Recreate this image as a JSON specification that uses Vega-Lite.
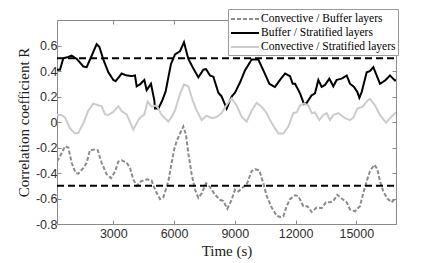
{
  "$schema": "https://vega.github.io/schema/vega-lite/v6.json",
  "width": 339,
  "height": 204,
  "autosize": {"type": "none"},
  "padding": {"left": 57, "top": 20, "right": 42, "bottom": 39},
  "background": "white",
  "config": {
    "view": {"stroke": null},
    "axis": {
      "grid": false,
      "domainColor": "#8a8a8a",
      "tickColor": "#8a8a8a",
      "tickSize": -4,
      "labelFont": "Liberation Sans",
      "labelFontSize": 12.5,
      "labelColor": "#303030",
      "titleFont": "Liberation Serif",
      "titleFontSize": 15,
      "titleFontWeight": "normal",
      "titleColor": "#202020"
    }
  },
  "datasets": {
    "series": [
      {"t": 220, "r": 0.41, "s": "Buffer / Stratified layers"},
      {"t": 368, "r": 0.41, "s": "Buffer / Stratified layers"},
      {"t": 532, "r": 0.50, "s": "Buffer / Stratified layers"},
      {"t": 779, "r": 0.51, "s": "Buffer / Stratified layers"},
      {"t": 944, "r": 0.52, "s": "Buffer / Stratified layers"},
      {"t": 1191, "r": 0.495, "s": "Buffer / Stratified layers"},
      {"t": 1520, "r": 0.435, "s": "Buffer / Stratified layers"},
      {"t": 1685, "r": 0.43, "s": "Buffer / Stratified layers"},
      {"t": 1849, "r": 0.49, "s": "Buffer / Stratified layers"},
      {"t": 2178, "r": 0.61, "s": "Buffer / Stratified layers"},
      {"t": 2310, "r": 0.59, "s": "Buffer / Stratified layers"},
      {"t": 2508, "r": 0.49, "s": "Buffer / Stratified layers"},
      {"t": 2754, "r": 0.39, "s": "Buffer / Stratified layers"},
      {"t": 3002, "r": 0.33, "s": "Buffer / Stratified layers"},
      {"t": 3117, "r": 0.32, "s": "Buffer / Stratified layers"},
      {"t": 3413, "r": 0.38, "s": "Buffer / Stratified layers"},
      {"t": 3660, "r": 0.365, "s": "Buffer / Stratified layers"},
      {"t": 3907, "r": 0.36, "s": "Buffer / Stratified layers"},
      {"t": 4071, "r": 0.365, "s": "Buffer / Stratified layers"},
      {"t": 4154, "r": 0.28, "s": "Buffer / Stratified layers"},
      {"t": 4318, "r": 0.295, "s": "Buffer / Stratified layers"},
      {"t": 4532, "r": 0.33, "s": "Buffer / Stratified layers"},
      {"t": 4648, "r": 0.25, "s": "Buffer / Stratified layers"},
      {"t": 4861, "r": 0.30, "s": "Buffer / Stratified layers"},
      {"t": 5026, "r": 0.17, "s": "Buffer / Stratified layers"},
      {"t": 5059, "r": 0.105, "s": "Buffer / Stratified layers"},
      {"t": 5224, "r": 0.105, "s": "Buffer / Stratified layers"},
      {"t": 5421, "r": 0.17, "s": "Buffer / Stratified layers"},
      {"t": 5586, "r": 0.24, "s": "Buffer / Stratified layers"},
      {"t": 5718, "r": 0.35, "s": "Buffer / Stratified layers"},
      {"t": 5849, "r": 0.455, "s": "Buffer / Stratified layers"},
      {"t": 6047, "r": 0.53, "s": "Buffer / Stratified layers"},
      {"t": 6294, "r": 0.555, "s": "Buffer / Stratified layers"},
      {"t": 6491, "r": 0.625, "s": "Buffer / Stratified layers"},
      {"t": 6705, "r": 0.495, "s": "Buffer / Stratified layers"},
      {"t": 6919, "r": 0.43, "s": "Buffer / Stratified layers"},
      {"t": 7199, "r": 0.35, "s": "Buffer / Stratified layers"},
      {"t": 7446, "r": 0.41, "s": "Buffer / Stratified layers"},
      {"t": 7578, "r": 0.415, "s": "Buffer / Stratified layers"},
      {"t": 7775, "r": 0.365, "s": "Buffer / Stratified layers"},
      {"t": 7940, "r": 0.355, "s": "Buffer / Stratified layers"},
      {"t": 8187, "r": 0.23, "s": "Buffer / Stratified layers"},
      {"t": 8351, "r": 0.20, "s": "Buffer / Stratified layers"},
      {"t": 8598, "r": 0.105, "s": "Buffer / Stratified layers"},
      {"t": 8845, "r": 0.20, "s": "Buffer / Stratified layers"},
      {"t": 9010, "r": 0.23, "s": "Buffer / Stratified layers"},
      {"t": 9257, "r": 0.31, "s": "Buffer / Stratified layers"},
      {"t": 9504, "r": 0.405, "s": "Buffer / Stratified layers"},
      {"t": 9833, "r": 0.49, "s": "Buffer / Stratified layers"},
      {"t": 10162, "r": 0.49, "s": "Buffer / Stratified layers"},
      {"t": 10409, "r": 0.405, "s": "Buffer / Stratified layers"},
      {"t": 10705, "r": 0.30, "s": "Buffer / Stratified layers"},
      {"t": 10985, "r": 0.275, "s": "Buffer / Stratified layers"},
      {"t": 11232, "r": 0.33, "s": "Buffer / Stratified layers"},
      {"t": 11479, "r": 0.38, "s": "Buffer / Stratified layers"},
      {"t": 11726, "r": 0.36, "s": "Buffer / Stratified layers"},
      {"t": 11857, "r": 0.30, "s": "Buffer / Stratified layers"},
      {"t": 11973, "r": 0.30, "s": "Buffer / Stratified layers"},
      {"t": 12220, "r": 0.225, "s": "Buffer / Stratified layers"},
      {"t": 12417, "r": 0.14, "s": "Buffer / Stratified layers"},
      {"t": 12549, "r": 0.15, "s": "Buffer / Stratified layers"},
      {"t": 12796, "r": 0.21, "s": "Buffer / Stratified layers"},
      {"t": 12960, "r": 0.225, "s": "Buffer / Stratified layers"},
      {"t": 13125, "r": 0.33, "s": "Buffer / Stratified layers"},
      {"t": 13290, "r": 0.275, "s": "Buffer / Stratified layers"},
      {"t": 13454, "r": 0.29, "s": "Buffer / Stratified layers"},
      {"t": 13668, "r": 0.34, "s": "Buffer / Stratified layers"},
      {"t": 13866, "r": 0.28, "s": "Buffer / Stratified layers"},
      {"t": 14030, "r": 0.33, "s": "Buffer / Stratified layers"},
      {"t": 14277, "r": 0.34, "s": "Buffer / Stratified layers"},
      {"t": 14524, "r": 0.365, "s": "Buffer / Stratified layers"},
      {"t": 14689, "r": 0.30, "s": "Buffer / Stratified layers"},
      {"t": 14886, "r": 0.275, "s": "Buffer / Stratified layers"},
      {"t": 15051, "r": 0.235, "s": "Buffer / Stratified layers"},
      {"t": 15150, "r": 0.19, "s": "Buffer / Stratified layers"},
      {"t": 15265, "r": 0.235, "s": "Buffer / Stratified layers"},
      {"t": 15512, "r": 0.39, "s": "Buffer / Stratified layers"},
      {"t": 15676, "r": 0.40, "s": "Buffer / Stratified layers"},
      {"t": 15841, "r": 0.43, "s": "Buffer / Stratified layers"},
      {"t": 16005, "r": 0.365, "s": "Buffer / Stratified layers"},
      {"t": 16170, "r": 0.30, "s": "Buffer / Stratified layers"},
      {"t": 16417, "r": 0.325, "s": "Buffer / Stratified layers"},
      {"t": 16664, "r": 0.365, "s": "Buffer / Stratified layers"},
      {"t": 16911, "r": 0.325, "s": "Buffer / Stratified layers"},
      {"t": 16960, "r": 0.33, "s": "Buffer / Stratified layers"},

      {"t": 220, "r": 0.055, "s": "Convective / Stratified layers"},
      {"t": 450, "r": 0.055, "s": "Convective / Stratified layers"},
      {"t": 615, "r": 0.035, "s": "Convective / Stratified layers"},
      {"t": 862, "r": -0.05, "s": "Convective / Stratified layers"},
      {"t": 1109, "r": -0.09, "s": "Convective / Stratified layers"},
      {"t": 1273, "r": -0.085, "s": "Convective / Stratified layers"},
      {"t": 1520, "r": -0.01, "s": "Convective / Stratified layers"},
      {"t": 1767, "r": 0.09, "s": "Convective / Stratified layers"},
      {"t": 2014, "r": 0.145, "s": "Convective / Stratified layers"},
      {"t": 2261, "r": 0.13, "s": "Convective / Stratified layers"},
      {"t": 2425, "r": 0.125, "s": "Convective / Stratified layers"},
      {"t": 2590, "r": 0.06, "s": "Convective / Stratified layers"},
      {"t": 2754, "r": 0.055, "s": "Convective / Stratified layers"},
      {"t": 3002, "r": 0.08, "s": "Convective / Stratified layers"},
      {"t": 3248, "r": 0.125, "s": "Convective / Stratified layers"},
      {"t": 3413, "r": 0.085, "s": "Convective / Stratified layers"},
      {"t": 3660, "r": 0.06, "s": "Convective / Stratified layers"},
      {"t": 3825, "r": 0.0, "s": "Convective / Stratified layers"},
      {"t": 3989, "r": -0.06, "s": "Convective / Stratified layers"},
      {"t": 4236, "r": 0.015, "s": "Convective / Stratified layers"},
      {"t": 4368, "r": 0.04, "s": "Convective / Stratified layers"},
      {"t": 4532, "r": 0.06, "s": "Convective / Stratified layers"},
      {"t": 4697, "r": 0.16, "s": "Convective / Stratified layers"},
      {"t": 4894, "r": 0.12, "s": "Convective / Stratified layers"},
      {"t": 5141, "r": 0.13, "s": "Convective / Stratified layers"},
      {"t": 5388, "r": 0.055, "s": "Convective / Stratified layers"},
      {"t": 5718, "r": 0.003, "s": "Convective / Stratified layers"},
      {"t": 5882, "r": 0.04, "s": "Convective / Stratified layers"},
      {"t": 6047, "r": 0.09, "s": "Convective / Stratified layers"},
      {"t": 6294, "r": 0.22, "s": "Convective / Stratified layers"},
      {"t": 6491, "r": 0.295, "s": "Convective / Stratified layers"},
      {"t": 6705, "r": 0.28, "s": "Convective / Stratified layers"},
      {"t": 6919, "r": 0.17, "s": "Convective / Stratified layers"},
      {"t": 7117, "r": 0.09, "s": "Convective / Stratified layers"},
      {"t": 7364, "r": 0.015, "s": "Convective / Stratified layers"},
      {"t": 7611, "r": 0.05, "s": "Convective / Stratified layers"},
      {"t": 7858, "r": 0.03, "s": "Convective / Stratified layers"},
      {"t": 8104, "r": 0.04, "s": "Convective / Stratified layers"},
      {"t": 8351, "r": 0.07, "s": "Convective / Stratified layers"},
      {"t": 8598, "r": 0.135, "s": "Convective / Stratified layers"},
      {"t": 8845, "r": 0.185, "s": "Convective / Stratified layers"},
      {"t": 9092, "r": 0.13, "s": "Convective / Stratified layers"},
      {"t": 9339, "r": 0.04, "s": "Convective / Stratified layers"},
      {"t": 9586, "r": 0.003, "s": "Convective / Stratified layers"},
      {"t": 9833, "r": 0.09, "s": "Convective / Stratified layers"},
      {"t": 10080, "r": 0.15, "s": "Convective / Stratified layers"},
      {"t": 10327, "r": 0.12, "s": "Convective / Stratified layers"},
      {"t": 10573, "r": 0.07, "s": "Convective / Stratified layers"},
      {"t": 10738, "r": 0.015, "s": "Convective / Stratified layers"},
      {"t": 10985, "r": -0.05, "s": "Convective / Stratified layers"},
      {"t": 11150, "r": -0.09, "s": "Convective / Stratified layers"},
      {"t": 11397, "r": -0.09, "s": "Convective / Stratified layers"},
      {"t": 11644, "r": -0.035, "s": "Convective / Stratified layers"},
      {"t": 11890, "r": 0.07, "s": "Convective / Stratified layers"},
      {"t": 12055, "r": 0.075, "s": "Convective / Stratified layers"},
      {"t": 12220, "r": 0.13, "s": "Convective / Stratified layers"},
      {"t": 12417, "r": 0.145, "s": "Convective / Stratified layers"},
      {"t": 12631, "r": 0.13, "s": "Convective / Stratified layers"},
      {"t": 12796, "r": 0.07, "s": "Convective / Stratified layers"},
      {"t": 12960, "r": 0.075, "s": "Convective / Stratified layers"},
      {"t": 13174, "r": 0.015, "s": "Convective / Stratified layers"},
      {"t": 13372, "r": 0.055, "s": "Convective / Stratified layers"},
      {"t": 13536, "r": 0.07, "s": "Convective / Stratified layers"},
      {"t": 13701, "r": 0.015, "s": "Convective / Stratified layers"},
      {"t": 13866, "r": 0.055, "s": "Convective / Stratified layers"},
      {"t": 14112, "r": 0.07, "s": "Convective / Stratified layers"},
      {"t": 14441, "r": 0.03, "s": "Convective / Stratified layers"},
      {"t": 14689, "r": 0.015, "s": "Convective / Stratified layers"},
      {"t": 14853, "r": 0.035, "s": "Convective / Stratified layers"},
      {"t": 15051, "r": 0.105, "s": "Convective / Stratified layers"},
      {"t": 15314, "r": 0.12, "s": "Convective / Stratified layers"},
      {"t": 15594, "r": 0.175, "s": "Convective / Stratified layers"},
      {"t": 15676, "r": 0.18, "s": "Convective / Stratified layers"},
      {"t": 15923, "r": 0.13, "s": "Convective / Stratified layers"},
      {"t": 16170, "r": 0.055, "s": "Convective / Stratified layers"},
      {"t": 16466, "r": -0.005, "s": "Convective / Stratified layers"},
      {"t": 16664, "r": 0.03, "s": "Convective / Stratified layers"},
      {"t": 16911, "r": 0.07, "s": "Convective / Stratified layers"},
      {"t": 16960, "r": 0.07, "s": "Convective / Stratified layers"},

      {"t": 220, "r": -0.31, "s": "Convective / Buffer layers"},
      {"t": 368, "r": -0.27, "s": "Convective / Buffer layers"},
      {"t": 615, "r": -0.19, "s": "Convective / Buffer layers"},
      {"t": 779, "r": -0.2, "s": "Convective / Buffer layers"},
      {"t": 944, "r": -0.32, "s": "Convective / Buffer layers"},
      {"t": 1141, "r": -0.40, "s": "Convective / Buffer layers"},
      {"t": 1273, "r": -0.405, "s": "Convective / Buffer layers"},
      {"t": 1520, "r": -0.36, "s": "Convective / Buffer layers"},
      {"t": 1685, "r": -0.32, "s": "Convective / Buffer layers"},
      {"t": 1849, "r": -0.22, "s": "Convective / Buffer layers"},
      {"t": 2096, "r": -0.215, "s": "Convective / Buffer layers"},
      {"t": 2228, "r": -0.22, "s": "Convective / Buffer layers"},
      {"t": 2425, "r": -0.32, "s": "Convective / Buffer layers"},
      {"t": 2672, "r": -0.41, "s": "Convective / Buffer layers"},
      {"t": 2886, "r": -0.44, "s": "Convective / Buffer layers"},
      {"t": 3084, "r": -0.39, "s": "Convective / Buffer layers"},
      {"t": 3248, "r": -0.31, "s": "Convective / Buffer layers"},
      {"t": 3413, "r": -0.30, "s": "Convective / Buffer layers"},
      {"t": 3660, "r": -0.32, "s": "Convective / Buffer layers"},
      {"t": 3825, "r": -0.36, "s": "Convective / Buffer layers"},
      {"t": 3989, "r": -0.45, "s": "Convective / Buffer layers"},
      {"t": 4154, "r": -0.50, "s": "Convective / Buffer layers"},
      {"t": 4368, "r": -0.465, "s": "Convective / Buffer layers"},
      {"t": 4648, "r": -0.45, "s": "Convective / Buffer layers"},
      {"t": 4894, "r": -0.46, "s": "Convective / Buffer layers"},
      {"t": 5059, "r": -0.53, "s": "Convective / Buffer layers"},
      {"t": 5306, "r": -0.605, "s": "Convective / Buffer layers"},
      {"t": 5471, "r": -0.59, "s": "Convective / Buffer layers"},
      {"t": 5718, "r": -0.465, "s": "Convective / Buffer layers"},
      {"t": 5882, "r": -0.32, "s": "Convective / Buffer layers"},
      {"t": 6014, "r": -0.21, "s": "Convective / Buffer layers"},
      {"t": 6129, "r": -0.15, "s": "Convective / Buffer layers"},
      {"t": 6294, "r": -0.09, "s": "Convective / Buffer layers"},
      {"t": 6458, "r": -0.035, "s": "Convective / Buffer layers"},
      {"t": 6590, "r": -0.10, "s": "Convective / Buffer layers"},
      {"t": 6705, "r": -0.245, "s": "Convective / Buffer layers"},
      {"t": 6870, "r": -0.41, "s": "Convective / Buffer layers"},
      {"t": 7035, "r": -0.53, "s": "Convective / Buffer layers"},
      {"t": 7199, "r": -0.595, "s": "Convective / Buffer layers"},
      {"t": 7364, "r": -0.56, "s": "Convective / Buffer layers"},
      {"t": 7578, "r": -0.48, "s": "Convective / Buffer layers"},
      {"t": 7775, "r": -0.51, "s": "Convective / Buffer layers"},
      {"t": 8022, "r": -0.57, "s": "Convective / Buffer layers"},
      {"t": 8269, "r": -0.61, "s": "Convective / Buffer layers"},
      {"t": 8434, "r": -0.62, "s": "Convective / Buffer layers"},
      {"t": 8631, "r": -0.68, "s": "Convective / Buffer layers"},
      {"t": 8845, "r": -0.61, "s": "Convective / Buffer layers"},
      {"t": 9010, "r": -0.53, "s": "Convective / Buffer layers"},
      {"t": 9174, "r": -0.545, "s": "Convective / Buffer layers"},
      {"t": 9339, "r": -0.52, "s": "Convective / Buffer layers"},
      {"t": 9586, "r": -0.49, "s": "Convective / Buffer layers"},
      {"t": 9833, "r": -0.385, "s": "Convective / Buffer layers"},
      {"t": 9997, "r": -0.37, "s": "Convective / Buffer layers"},
      {"t": 10211, "r": -0.38, "s": "Convective / Buffer layers"},
      {"t": 10409, "r": -0.48, "s": "Convective / Buffer layers"},
      {"t": 10573, "r": -0.58, "s": "Convective / Buffer layers"},
      {"t": 10820, "r": -0.67, "s": "Convective / Buffer layers"},
      {"t": 11067, "r": -0.735, "s": "Convective / Buffer layers"},
      {"t": 11232, "r": -0.745, "s": "Convective / Buffer layers"},
      {"t": 11397, "r": -0.74, "s": "Convective / Buffer layers"},
      {"t": 11561, "r": -0.66, "s": "Convective / Buffer layers"},
      {"t": 11726, "r": -0.605, "s": "Convective / Buffer layers"},
      {"t": 11973, "r": -0.575, "s": "Convective / Buffer layers"},
      {"t": 12137, "r": -0.58, "s": "Convective / Buffer layers"},
      {"t": 12384, "r": -0.66, "s": "Convective / Buffer layers"},
      {"t": 12582, "r": -0.66, "s": "Convective / Buffer layers"},
      {"t": 12796, "r": -0.705, "s": "Convective / Buffer layers"},
      {"t": 13042, "r": -0.67, "s": "Convective / Buffer layers"},
      {"t": 13290, "r": -0.675, "s": "Convective / Buffer layers"},
      {"t": 13503, "r": -0.63, "s": "Convective / Buffer layers"},
      {"t": 13701, "r": -0.63, "s": "Convective / Buffer layers"},
      {"t": 13866, "r": -0.62, "s": "Convective / Buffer layers"},
      {"t": 14063, "r": -0.57, "s": "Convective / Buffer layers"},
      {"t": 14277, "r": -0.60, "s": "Convective / Buffer layers"},
      {"t": 14524, "r": -0.63, "s": "Convective / Buffer layers"},
      {"t": 14689, "r": -0.685, "s": "Convective / Buffer layers"},
      {"t": 14936, "r": -0.70, "s": "Convective / Buffer layers"},
      {"t": 15183, "r": -0.66, "s": "Convective / Buffer layers"},
      {"t": 15347, "r": -0.555, "s": "Convective / Buffer layers"},
      {"t": 15512, "r": -0.465, "s": "Convective / Buffer layers"},
      {"t": 15676, "r": -0.385, "s": "Convective / Buffer layers"},
      {"t": 15890, "r": -0.335, "s": "Convective / Buffer layers"},
      {"t": 16039, "r": -0.37, "s": "Convective / Buffer layers"},
      {"t": 16170, "r": -0.465, "s": "Convective / Buffer layers"},
      {"t": 16335, "r": -0.545, "s": "Convective / Buffer layers"},
      {"t": 16532, "r": -0.60, "s": "Convective / Buffer layers"},
      {"t": 16746, "r": -0.63, "s": "Convective / Buffer layers"},
      {"t": 16911, "r": -0.60, "s": "Convective / Buffer layers"},
      {"t": 16960, "r": -0.60, "s": "Convective / Buffer layers"}
    ],
    "thresholds": [{"r": 0.5}, {"r": -0.5}]
  },
  "resolve": {"axis": {"x": "independent", "y": "independent"}},
  "layer": [
    {
      "data": {"name": "series"},
      "mark": {"type": "line", "strokeWidth": 2, "clip": true},
      "encoding": {
        "x": {
          "field": "t", "type": "quantitative",
          "scale": {"domain": [220, 16960], "nice": false, "zero": false},
          "axis": {"values": [3000, 6000, 9000, 12000, 15000], "format": "d", "title": "Time (s)", "labelPadding": 7, "titlePadding": 4}
        },
        "y": {
          "field": "r", "type": "quantitative",
          "scale": {"domain": [-0.8, 0.8], "nice": false},
          "axis": {"values": [-0.8, -0.6, -0.4, -0.2, 0, 0.2, 0.4, 0.6], "labelExpr": "'' + datum.value", "title": "Correlation coefficient R", "labelPadding": 4, "titlePadding": 4}
        },
        "color": {
          "field": "s", "type": "nominal",
          "scale": {
            "domain": ["Convective / Buffer layers", "Buffer / Stratified layers", "Convective / Stratified layers"],
            "range": ["#8c8c8c", "#000000", "#cccccc"]
          },
          "legend": {
            "title": null,
            "orient": "none",
            "legendX": 171,
            "legendY": -11,
            "fillColor": "white",
            "strokeColor": "#9a9a9a",
            "padding": 2,
            "labelFont": "Liberation Serif",
            "labelFontSize": 11.5,
            "labelColor": "#000000",
            "labelOffset": 15,
            "symbolType": "M-1,0L3,0",
            "symbolSize": 196,
            "symbolStrokeWidth": 2,
            "symbolFillColor": "transparent",
            "rowPadding": 0
          }
        },
        "strokeDash": {
          "field": "s", "type": "nominal",
          "scale": {
            "domain": ["Convective / Buffer layers", "Buffer / Stratified layers", "Convective / Stratified layers"],
            "range": [[4, 2], [1, 0], [1, 0]]
          },
          "legend": null
        }
      }
    },
    {
      "data": {"name": "thresholds"},
      "mark": {"type": "rule", "color": "black", "strokeWidth": 2, "strokeDash": [7, 4]},
      "encoding": {
        "y": {
          "field": "r", "type": "quantitative",
          "axis": {"orient": "right", "values": [-0.8, -0.6, -0.4, -0.2, 0, 0.2, 0.4, 0.6], "labels": false, "title": null}
        },
        "x": {"datum": 220, "type": "quantitative", "axis": {"orient": "top", "values": [3000, 6000, 9000, 12000, 15000], "labels": false, "title": null}},
        "x2": {"datum": 16960}
      }
    }
  ]
}
